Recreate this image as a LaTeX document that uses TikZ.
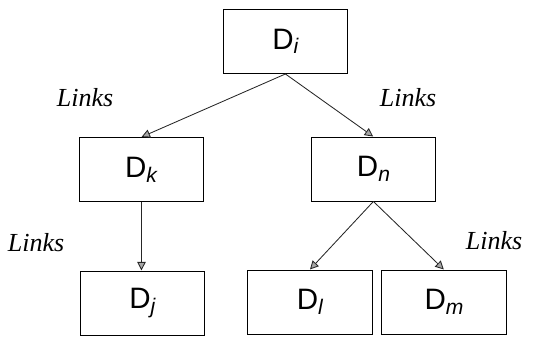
\documentclass[tikz,border=0pt]{standalone}
\usepackage{fontspec}
\setmainfont{Liberation Serif}
\setsansfont{Liberation Sans}
\usepackage{tikz}
\usetikzlibrary{arrows.meta}
\newcommand{\docsub}[1]{\raisebox{-0.3ex}{\fontsize{15}{15}\selectfont\textit{#1}}}

\begin{document}
\begin{tikzpicture}[scale=0.025]
\tikzstyle{every node}+=[inner sep=0pt]
\tikzstyle{doc}=[draw=black, line width=0.7pt, minimum width=3.1cm, minimum height=1.6cm, font=\sffamily\fontsize{21}{23}\selectfont]
\tikzstyle{link}=[draw=black!85, line width=0.6pt, -{Triangle[length=6pt,width=6pt,fill=gray!70]}]
\tikzstyle{lbl}=[font=\itshape\fontsize{18.5}{20}\selectfont]
\useasboundingbox (0,0) rectangle (536,-337);
\node [doc] (di) at (285.5,-41.5) {D\docsub{i}};
\node [doc] (dk) at (141.5,-169.5) {D\docsub{k}};
\node [doc] (dn) at (373.5,-169) {D\docsub{n}};
\node [doc] (dj) at (142.5,-303) {D\docsub{j}};
\node [doc] (dl) at (310,-302) {D\docsub{l}};
\node [doc] (dm) at (444,-302) {D\docsub{m}};
\draw [link] (di.south) -- ([xshift=0.12cm]dk.north);
\draw [link] (di.south) -- ([xshift=-0.28cm]dn.north);
\draw [link] (dk.south) -- (dk.south |- dj.north);
\draw [link] (dn.south) -- ([xshift=0.08cm]dl.north);
\draw [link] (dn.south) -- ([xshift=-0.1cm]dm.north);
\node [lbl] (l1) at (85,-98) {Links};
\node [lbl] (l2) at (408,-98) {Links};
\node [lbl] (l3) at (36,-243) {Links};
\node [lbl] (l4) at (494,-241) {Links};
\end{tikzpicture}
\end{document}
